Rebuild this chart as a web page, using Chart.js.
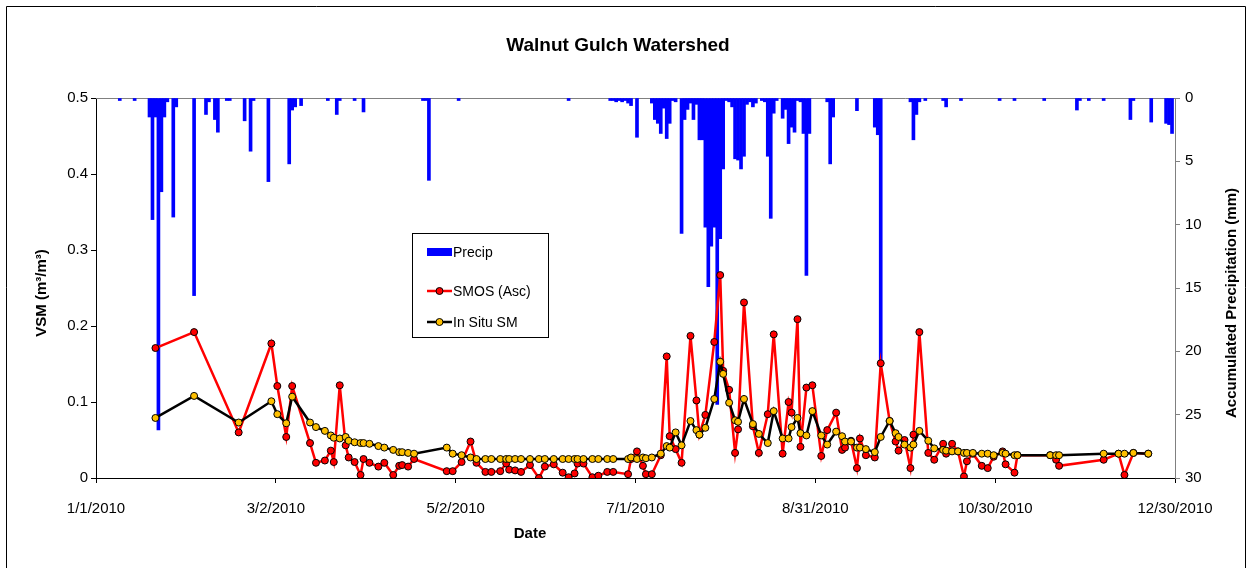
<!DOCTYPE html>
<html><head><meta charset="utf-8">
<script src="https://cdn.jsdelivr.net/npm/chart.js@4/dist/chart.umd.min.js"></script>
<style>html,body{margin:0;padding:0;background:#fff}canvas{display:block}</style>
</head><body>
<canvas id="c" width="1252" height="568"></canvas>
<script>
const chartTitle = 'Walnut Gulch Watershed';
const xTitle = 'Date';
const yTitle = 'VSM (m³/m³)';
const y1Title = 'Accumulated Precipitation (mm)';
const legendLabels = ['Precip', 'SMOS (Asc)', 'In Situ SM'];
const xTickLabels = ['1/1/2010','3/2/2010','5/2/2010','7/1/2010','8/31/2010','10/30/2010','12/30/2010'];

// days since 1/1/2010 of each observation
const obsDays = [20,33,48,59,61,64,66,72,74,77,
  79,80,82,84,85,87,89,90,92,95,
  97,100,102,103,105,107,118,120,123,126,
  128,131,133,136,138,139,141,143,146,149,
  151,154,157,159,161,162,164,167,169,172,
  174,179,180,182,184,185,187,190,192,193,
  195,197,200,202,203,205,208,210,211,213,
  215,216,218,221,223,226,228,231,233,234,
  236,237,239,241,244,246,249,251,252,254,
  256,257,259,262,264,267,269,270,272,274,
  275,277,280,282,285,286,288,290,292,293,
  295,298,300,302,305,306,309,310,321,323,
  324,339,344,346,349,354];

const smosVSM = [0.171,0.192,0.060,0.177,0.121,0.054,0.121,0.046,0.020,0.023,
  0.036,0.021,0.122,0.043,0.027,0.021,0.004,0.025,0.020,0.015,
  0.020,0.004,0.016,0.017,0.015,0.025,0.009,0.009,0.021,0.048,
  0.020,0.008,0.008,0.009,0.019,0.011,0.010,0.008,0.017,0.000,
  0.015,0.018,0.007,0.001,0.006,0.019,0.019,0.001,0.003,0.008,
  0.008,0.005,0.025,0.035,0.016,0.005,0.005,0.030,0.160,0.055,
  0.038,0.020,0.187,0.102,0.057,0.083,0.179,0.267,0.141,0.116,
  0.033,0.064,0.231,0.068,0.033,0.084,0.189,0.032,0.100,0.086,
  0.209,0.041,0.119,0.122,0.029,0.063,0.086,0.037,0.040,0.049,
  0.013,0.052,0.030,0.027,0.151,0.075,0.048,0.036,0.050,0.013,
  0.057,0.192,0.033,0.024,0.045,0.032,0.045,0.035,0.002,0.022,
  0.032,0.016,0.013,0.028,0.035,0.018,0.007,0.030,0.030,0.024,
  0.016,0.024,0.032,0.004,0.033,0.032];

const insituVSM = [0.079,0.108,0.073,0.101,0.084,0.072,0.107,0.073,0.067,0.062,
  0.056,0.053,0.052,0.054,0.049,0.047,0.046,0.046,0.045,0.042,
  0.040,0.037,0.034,0.034,0.033,0.032,0.040,0.032,0.030,0.027,
  0.025,0.025,0.025,0.025,0.025,0.025,0.025,0.025,0.025,0.025,
  0.025,0.025,0.025,0.025,0.025,0.025,0.025,0.025,0.025,0.025,
  0.025,0.025,0.027,0.025,0.027,0.026,0.027,0.032,0.042,0.040,
  0.060,0.043,0.075,0.063,0.057,0.066,0.104,0.153,0.137,0.099,
  0.076,0.074,0.104,0.071,0.058,0.046,0.088,0.052,0.052,0.067,
  0.079,0.059,0.056,0.088,0.056,0.044,0.061,0.055,0.048,0.048,
  0.040,0.040,0.038,0.034,0.054,0.075,0.059,0.054,0.044,0.040,
  0.044,0.062,0.049,0.039,0.037,0.036,0.035,0.035,0.033,0.033,
  0.033,0.032,0.032,0.030,0.033,0.032,0.030,0.030,0.030,0.030,
  0.030,0.032,0.032,0.032,0.033,0.032];

const precipDays = [8,13,18,19,20,21,22,23,24,26,
  27,33,37,38,40,41,44,45,50,52,
  53,58,65,66,67,69,78,81,82,87,
  90,110,111,112,122,159,173,174,175,176,
  177,178,179,180,182,187,188,189,190,191,
  192,193,194,195,197,198,199,200,201,202,
  203,204,205,206,207,208,209,210,211,212,
  213,214,215,216,217,218,219,220,221,222,
  224,225,226,227,228,229,231,232,233,234,
  235,236,237,238,239,240,246,247,248,256,
  262,263,264,274,275,276,277,279,285,286,
  291,304,309,319,330,331,334,339,348,349,
  355,360,361,362];

const precipMM = [0.2,0.2,1.5,9.6,1.5,26.2,7.4,1.5,0.3,9.4,
  0.7,15.6,1.3,0.3,1.7,2.7,0.2,0.2,1.8,4.2,
  0.2,6.6,5.2,0.95,0.7,0.6,0.2,1.3,0.2,0.2,
  1.1,0.2,0.2,6.5,0.2,0.2,0.2,0.2,0.3,0.2,
  0.3,0.2,0.4,0.6,3.1,0.4,1.7,2.0,2.8,0.8,
  3.2,2.0,0.2,0.3,10.7,1.7,0.9,0.4,1.7,0.5,
  3.3,3.3,10.2,14.9,11.7,10.2,24.2,11.1,5.6,0.2,
  0.3,0.7,4.8,4.9,5.6,4.6,0.5,0.3,0.7,0.4,
  0.2,0.3,4.6,9.5,1.2,0.2,1.6,0.9,3.6,2.3,
  2.7,0.2,0.3,2.8,14,2.8,0.3,5.2,1.5,1.0,
  2.3,2.9,20.8,0.3,3.3,1.3,0.3,0.2,0.2,0.7,
  0.2,0.2,0.2,0.2,0.95,0.2,0.2,0.2,1.7,0.2,
  1.9,2.0,2.1,2.8];

const FONT = '"Liberation Sans", Arial, sans-serif';
const BLUE = '#0000FF', RED = '#FF0000', GOLD = '#FFC000';

const decor = {
  id: 'decor',
  beforeDatasetsDraw(chart) {
    const ctx = chart.ctx, a = chart.chartArea;
    ctx.save();
    ctx.strokeStyle = '#808080'; ctx.lineWidth = 1;
    ctx.beginPath(); ctx.moveTo(a.left, a.top + 0.5); ctx.lineTo(a.right, a.top + 0.5); ctx.stroke();
    ctx.restore();
  },
  afterDraw(chart) {
    const ctx = chart.ctx;
    ctx.save();
    // outer frame
    ctx.strokeStyle = '#000'; ctx.lineWidth = 1;
    ctx.beginPath();
    ctx.moveTo(6.5, 600); ctx.lineTo(6.5, 6.5); ctx.lineTo(1245.5, 6.5); ctx.lineTo(1245.5, 600);
    ctx.stroke();
    // titles
    ctx.fillStyle = '#000';
    ctx.textAlign = 'center'; ctx.textBaseline = 'middle';
    ctx.font = 'bold 19px ' + FONT;
    ctx.fillText(chartTitle, 618, 46);
    ctx.font = 'bold 15px ' + FONT;
    ctx.fillText(xTitle, 530, 534);
    ctx.save(); ctx.translate(42, 293); ctx.rotate(-Math.PI / 2); ctx.fillText(yTitle, 0, 0); ctx.restore();
    ctx.save(); ctx.translate(1232, 303); ctx.rotate(-Math.PI / 2); ctx.fillText(y1Title, 0, 0); ctx.restore();
    // legend
    const lx = 412.5, ly = 233.5, lw = 136, lh = 104;
    ctx.fillStyle = '#fff'; ctx.fillRect(lx, ly, lw, lh);
    ctx.strokeStyle = '#000'; ctx.strokeRect(lx, ly, lw, lh);
    ctx.font = '14px ' + FONT; ctx.textAlign = 'left';
    const rows = [252, 291, 322];
    ctx.fillStyle = BLUE; ctx.fillRect(427, rows[0] - 4, 25, 8);
    const lineEntry = (y, lineCol, dotCol) => {
      ctx.strokeStyle = lineCol; ctx.lineWidth = 2.5;
      ctx.beginPath(); ctx.moveTo(427, y); ctx.lineTo(452, y); ctx.stroke();
      ctx.fillStyle = dotCol; ctx.strokeStyle = '#000'; ctx.lineWidth = 1;
      ctx.beginPath(); ctx.arc(439.5, y, 3.5, 0, Math.PI * 2); ctx.fill(); ctx.stroke();
    };
    lineEntry(rows[1], RED, RED);
    lineEntry(rows[2], '#000', GOLD);
    ctx.fillStyle = '#000';
    legendLabels.forEach((t, i) => ctx.fillText(t, 453, rows[i] + 1));
    ctx.restore();
  }
};

const tickFont = { size: 15, family: FONT };

new Chart(document.getElementById('c'), {
  type: 'line',
  data: {
    datasets: [
      {
        type: 'line', label: legendLabels[2], order: 1, yAxisID: 'y',
        data: obsDays.map((d, i) => ({ x: d, y: insituVSM[i] })),
        borderColor: '#000', borderWidth: 2.5, tension: 0,
        pointRadius: 3.5, pointBackgroundColor: GOLD, pointBorderColor: '#000', pointBorderWidth: 1
      },
      {
        type: 'line', label: legendLabels[1], order: 2, yAxisID: 'y',
        data: obsDays.map((d, i) => ({ x: d, y: smosVSM[i] })),
        borderColor: RED, borderWidth: 2.5, tension: 0,
        pointRadius: 3.5, pointBackgroundColor: RED, pointBorderColor: '#000', pointBorderWidth: 1
      },
      {
        type: 'bar', label: legendLabels[0], order: 3, yAxisID: 'y1',
        data: precipDays.map((d, i) => ({ x: d, y: precipMM[i] })),
        backgroundColor: BLUE, borderWidth: 0, barThickness: 3
      }
    ]
  },
  options: {
    responsive: false, animation: false, devicePixelRatio: 1,
    layout: { padding: { top: 98, left: 0, right: 0, bottom: 0 } },
    plugins: { legend: { display: false }, tooltip: { enabled: false }, title: { display: false } },
    scales: {
      x: {
        type: 'linear', min: 0, max: 363, offset: false,
        ticks: {
          stepSize: 60.5, autoSkip: false, maxRotation: 0, color: '#000', font: tickFont, padding: 17,
          callback: (v, i) => xTickLabels[i]
        },
        grid: { display: true, drawOnChartArea: false, drawTicks: true, tickLength: 5, color: '#000', offset: false },
        border: { display: true, color: '#000', width: 1 },
        afterFit: s => { s.height = 90; }
      },
      y: {
        position: 'left', min: 0, max: 0.5,
        ticks: { stepSize: 0.1, color: '#000', font: tickFont, padding: 3,
          callback: v => (v === 0 ? '0' : v.toFixed(1)) },
        grid: { drawOnChartArea: false, drawTicks: true, tickLength: 5, color: '#000' },
        border: { display: true, color: '#000', width: 1 },
        afterFit: s => { s.width = 96; }
      },
      y1: {
        position: 'right', reverse: true, min: 0, max: 30,
        ticks: { stepSize: 5, color: '#000', font: tickFont, padding: 5 },
        grid: { drawOnChartArea: false, drawTicks: true, tickLength: 5, color: '#808080' },
        border: { display: true, color: '#808080', width: 1 },
        afterFit: s => { s.width = 77; }
      }
    }
  },
  plugins: [decor]
});
</script>
</body></html>
